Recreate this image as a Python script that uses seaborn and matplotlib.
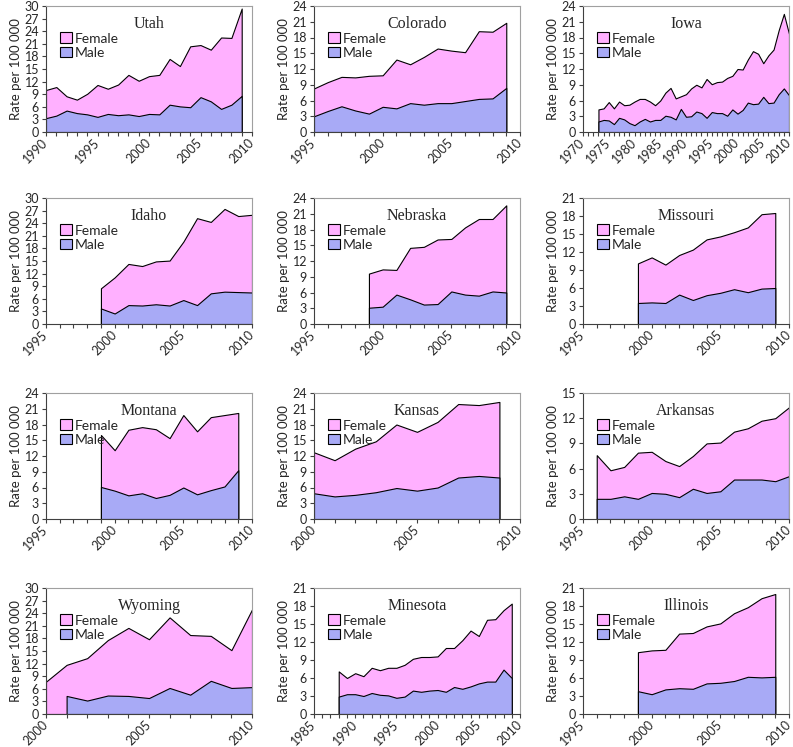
import numpy as np
import matplotlib.pyplot as plt
import seaborn as sns

# rates per 100 000, male and female (female stacked on top of male)
utah_years = list(range(1990, 2010))
utah_male = [3.3, 3.9, 5.1, 4.5, 4.2, 3.6, 4.3, 4.0, 4.2, 3.8, 4.3, 4.2, 6.5, 6.1, 5.9, 8.3, 7.3, 5.5, 6.5, 8.6]
utah_female = [6.7, 6.8, 3.4, 3.2, 4.9, 7.6, 6.0, 7.3, 9.4, 8.4, 9.0, 9.4, 10.9, 9.6, 14.5, 12.4, 12.3, 17.0, 15.9, 20.8]

colorado_years = list(range(1995, 2010))
colorado_male = [3.0, 4.0, 4.9, 4.1, 3.5, 4.8, 4.5, 5.5, 5.2, 5.5, 5.5, 5.9, 6.3, 6.4, 8.4]
colorado_female = [5.3, 5.5, 5.6, 6.3, 7.2, 6.0, 9.3, 7.4, 9.1, 10.4, 10.0, 9.3, 12.9, 12.7, 12.4]

iowa_years = list(range(1973, 2011))
iowa_male = [2.0, 2.3, 2.2, 1.5, 2.7, 2.4, 1.7, 1.3, 2.0, 2.5, 2.0, 2.3, 2.3, 3.1, 2.9, 2.4, 4.4, 2.9, 3.0,
             3.9, 3.6, 2.7, 3.8, 3.6, 3.6, 3.1, 4.3, 3.5, 4.2, 5.6, 5.3, 5.4, 6.7, 5.5, 5.6, 7.2, 8.3, 7.0]
iowa_female = [2.3, 2.2, 3.5, 3.0, 3.1, 2.7, 3.5, 4.5, 4.3, 3.8, 3.8, 2.8, 3.7, 4.4, 5.5, 4.0, 2.4, 4.3, 5.3,
               5.1, 4.9, 7.4, 5.3, 5.9, 6.0, 7.2, 6.4, 8.5, 7.7, 8.2, 10.1, 9.5, 6.4, 9.1, 10.1, 12.2, 14.2, 11.7]

idaho_years = list(range(1999, 2011))
idaho_male = [3.7, 2.5, 4.5, 4.4, 4.7, 4.4, 5.7, 4.5, 7.3, 7.7, 7.6, 7.5]
idaho_female = [4.8, 8.6, 9.8, 9.4, 10.2, 10.7, 13.9, 20.7, 17.0, 19.7, 18.1, 18.5]

nebraska_years = list(range(1999, 2010))
nebraska_male = [3.1, 3.3, 5.6, 4.7, 3.7, 3.8, 6.2, 5.6, 5.4, 6.2, 6.0]
nebraska_female = [6.5, 7.1, 4.7, 9.8, 11.0, 12.3, 10.0, 12.8, 14.6, 13.8, 16.6]

missouri_years = list(range(1999, 2010))
missouri_male = [3.5, 3.6, 3.5, 4.9, 4.0, 4.8, 5.2, 5.8, 5.3, 5.9, 6.0]
missouri_female = [6.6, 7.5, 6.4, 6.6, 8.4, 9.3, 9.4, 9.5, 10.8, 12.4, 12.5]

montana_years = list(range(1999, 2010))
montana_male = [6.1, 5.4, 4.5, 4.9, 4.0, 4.6, 6.0, 4.7, 5.5, 6.2, 9.3]
montana_female = [9.9, 7.7, 12.5, 12.6, 13.1, 10.8, 13.8, 12.0, 13.9, 13.6, 10.9]

kansas_years = list(range(2000, 2010))
kansas_male = [4.9, 4.3, 4.6, 5.1, 5.9, 5.4, 6.0, 7.9, 8.2, 7.9]
kansas_female = [7.8, 6.9, 8.8, 9.7, 12.1, 11.2, 12.5, 14.0, 13.5, 14.4]

arkansas_years = list(range(1996, 2011))
arkansas_male = [2.4, 2.4, 2.7, 2.4, 3.1, 3.0, 2.6, 3.6, 3.1, 3.3, 4.7, 4.7, 4.7, 4.5, 5.1]
arkansas_female = [5.2, 3.4, 3.5, 5.5, 4.9, 3.9, 3.7, 3.9, 5.9, 5.8, 5.7, 6.1, 7.0, 7.5, 8.2]

wyoming_years = list(range(2000, 2011))
wyoming_male = [np.nan, 4.3, 3.2, 4.4, 4.3, 3.8, 6.2, 4.6, 7.9, 6.2, 6.4]
wyoming_female = [7.7, 7.4, 10.1, 13.2, 16.2, 14.0, 16.8, 14.2, 10.7, 9.0, 18.5]

minesota_years = list(range(1988, 2010))
minesota_male = [2.9, 3.3, 3.3, 3.0, 3.5, 3.2, 3.1, 2.7, 2.9, 3.9, 3.7, 3.9, 4.0, 3.7, 4.5, 4.2, 4.6, 5.1,
                 5.4, 5.4, 7.4, 6.0]
minesota_female = [4.2, 2.7, 3.5, 3.3, 4.2, 4.1, 4.6, 5.0, 5.3, 5.3, 5.8, 5.6, 5.6, 7.3, 6.5, 8.1, 9.3, 7.9,
                   10.3, 10.4, 9.9, 12.4]

illinois_years = list(range(1999, 2010))
illinois_male = [3.8, 3.3, 4.1, 4.3, 4.2, 5.1, 5.2, 5.5, 6.2, 6.1, 6.2]
illinois_female = [6.5, 7.3, 6.6, 9.1, 9.3, 9.5, 9.9, 11.3, 11.6, 13.2, 13.8]

panels = [
    ("Utah", utah_years, utah_male, utah_female, (1990, 2010), 30),
    ("Colorado", colorado_years, colorado_male, colorado_female, (1995, 2010), 24),
    ("Iowa", iowa_years, iowa_male, iowa_female, (1970, 2010), 24),
    ("Idaho", idaho_years, idaho_male, idaho_female, (1995, 2010), 30),
    ("Nebraska", nebraska_years, nebraska_male, nebraska_female, (1995, 2010), 24),
    ("Missouri", missouri_years, missouri_male, missouri_female, (1995, 2010), 21),
    ("Montana", montana_years, montana_male, montana_female, (1995, 2010), 24),
    ("Kansas", kansas_years, kansas_male, kansas_female, (2000, 2010), 24),
    ("Arkansas", arkansas_years, arkansas_male, arkansas_female, (1995, 2010), 15),
    ("Wyoming", wyoming_years, wyoming_male, wyoming_female, (2000, 2010), 30),
    ("Minesota", minesota_years, minesota_male, minesota_female, (1985, 2010), 21),
    ("Illinois", illinois_years, illinois_male, illinois_female, (1995, 2010), 21),
]

PINK = "#ffb0ff"
BLUE = "#a8aaf6"

sns.set_theme(style="ticks")
plt.rcParams['font.family'] = ['Lato', 'DejaVu Sans']

W, H = 793, 747
fig = plt.figure(figsize=(W / 100, H / 100), dpi=100)

col_left = [46, 314, 583]
row_top = [6, 198, 393, 588]
aw, ah = 206, 126

for i, (name, years, male, female, xlim, ymax) in enumerate(panels):
    r, c = divmod(i, 3)
    ax = fig.add_axes([col_left[c] / W, 1 - (row_top[r] + ah) / H, aw / W, ah / H])
    male = np.array(male, dtype=float)
    total = np.nan_to_num(male) + np.array(female)

    f = ax.fill_between(years, 0, total, facecolor=PINK, edgecolor="black", linewidth=0.8, label="Female")
    m = ax.fill_between(years, 0, male, facecolor=BLUE, edgecolor="black", linewidth=0.8, label="Male")

    ax.set_xlim(*xlim)
    ax.set_ylim(0, ymax)
    ax.set_yticks(np.arange(0, ymax + 1, 3))
    ax.set_xticks(np.arange(xlim[0], xlim[1] + 1, 1), minor=True)
    ax.set_xticks(np.arange(xlim[0], xlim[1] + 1, 5))
    ax.set_xticklabels([str(y) for y in range(xlim[0], xlim[1] + 1, 5)],
                       rotation=45, ha="right", va="center", rotation_mode="anchor")
    ax.tick_params(axis="both", which="both", direction="out", length=3, width=0.8,
                   color="#404040", labelsize=9, pad=2)
    ax.tick_params(axis="x", which="major", pad=3)
    ax.set_ylabel("Rate per 100 000", fontsize=9.5, labelpad=2)

    for side in ["left", "bottom"]:
        ax.spines[side].set_color("#404040")
        ax.spines[side].set_linewidth(0.8)
    for side in ["top", "right"]:
        ax.spines[side].set_color("#a0a0a0")
        ax.spines[side].set_linewidth(0.8)

    ax.text(0.5, 0.86, name, transform=ax.transAxes, ha="center", va="center",
            family="Liberation Serif", fontsize=11.5)
    ax.legend(handles=[f, m], loc="upper left", bbox_to_anchor=(0.07, 0.79), frameon=False,
              handlelength=0.8, handleheight=0.8, handletextpad=0.25, labelspacing=0.15,
              borderaxespad=0, borderpad=0, fontsize=10)

fig.savefig("out.png", dpi=100)
